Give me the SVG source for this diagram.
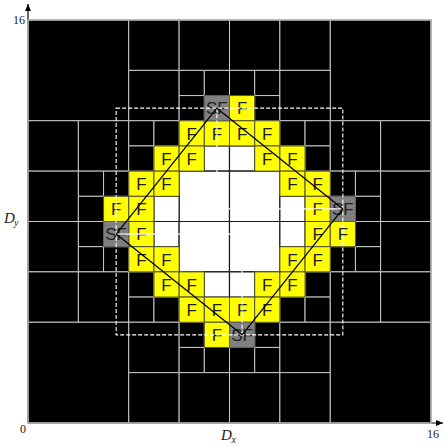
<svg xmlns="http://www.w3.org/2000/svg" width="444" height="447" viewBox="0 0 444 447">
<style>
.grid rect{vector-effect:non-scaling-stroke}
.k{fill:#000;stroke:#c8c8c8;stroke-width:1}
.w{fill:#fff;stroke:#1a1a1a;stroke-width:1.2}
.f{fill:#ffff00;stroke:#4d4d33;stroke-width:1}
.s{fill:#808080;stroke:#5a5a5a;stroke-width:1}
.t{font-family:"Liberation Sans",Arial,sans-serif;font-size:17px;fill:#1e1e1e;text-anchor:middle}
.ax{stroke:#000;stroke-width:1.2;fill:none}
.lbl{font-family:"Liberation Serif","Times New Roman",serif;font-size:12px;fill:#222}
.it{font-family:"Liberation Serif","Times New Roman",serif;font-style:italic;fill:#222}
.wl{stroke:#fff;stroke-width:1.1;fill:none}
.wd{stroke:#fff;stroke-width:1.1;fill:none;stroke-dasharray:4 2}
.cn{stroke:#000;stroke-width:1.3;fill:none}
</style>
<defs>
<marker id="arr" markerWidth="8" markerHeight="8" refX="7" refY="4" orient="auto" markerUnits="userSpaceOnUse"><path d="M0,1 L7,4 L0,7 Z" fill="#000"/></marker>
</defs>

<g id="axes">
<line class="ax" x1="28" y1="423" x2="28" y2="4" marker-end="url(#arr)"/>
<line class="ax" x1="28" y1="423" x2="443" y2="423" marker-end="url(#arr)"/>
</g>

<g id="grid" class="grid" transform="matrix(25.1875 0 0 25.1875 28 20)">
<g id="black">
<rect class="k" x="0" y="0" width="4" height="4"/>
<rect class="k" x="4" y="0" width="2" height="2"/>
<rect class="k" x="6" y="0" width="2" height="2"/>
<rect class="k" x="4" y="2" width="2" height="2"/>
<rect class="k" x="6" y="2" width="1" height="1"/>
<rect class="k" x="7" y="2" width="1" height="1"/>
<rect class="k" x="6" y="3" width="1" height="1"/>
<rect class="k" x="0" y="4" width="2" height="2"/>
<rect class="k" x="2" y="4" width="2" height="2"/>
<rect class="k" x="0" y="6" width="2" height="2"/>
<rect class="k" x="2" y="6" width="1" height="1"/>
<rect class="k" x="3" y="6" width="1" height="1"/>
<rect class="k" x="2" y="7" width="1" height="1"/>
<rect class="k" x="4" y="4" width="1" height="1"/>
<rect class="k" x="5" y="4" width="1" height="1"/>
<rect class="k" x="4" y="5" width="1" height="1"/>
<rect class="k" x="8" y="0" width="2" height="2"/>
<rect class="k" x="10" y="0" width="2" height="2"/>
<rect class="k" x="12" y="0" width="4" height="4"/>
<rect class="k" x="8" y="2" width="1" height="1"/>
<rect class="k" x="9" y="2" width="1" height="1"/>
<rect class="k" x="9" y="3" width="1" height="1"/>
<rect class="k" x="10" y="2" width="2" height="2"/>
<rect class="k" x="10" y="4" width="1" height="1"/>
<rect class="k" x="11" y="4" width="1" height="1"/>
<rect class="k" x="11" y="5" width="1" height="1"/>
<rect class="k" x="12" y="4" width="2" height="2"/>
<rect class="k" x="14" y="4" width="2" height="2"/>
<rect class="k" x="12" y="6" width="1" height="1"/>
<rect class="k" x="13" y="6" width="1" height="1"/>
<rect class="k" x="13" y="7" width="1" height="1"/>
<rect class="k" x="14" y="6" width="2" height="2"/>
<rect class="k" x="0" y="8" width="2" height="2"/>
<rect class="k" x="2" y="8" width="1" height="1"/>
<rect class="k" x="2" y="9" width="1" height="1"/>
<rect class="k" x="3" y="9" width="1" height="1"/>
<rect class="k" x="0" y="10" width="2" height="2"/>
<rect class="k" x="2" y="10" width="2" height="2"/>
<rect class="k" x="4" y="10" width="1" height="1"/>
<rect class="k" x="4" y="11" width="1" height="1"/>
<rect class="k" x="5" y="11" width="1" height="1"/>
<rect class="k" x="0" y="12" width="4" height="4"/>
<rect class="k" x="4" y="12" width="2" height="2"/>
<rect class="k" x="6" y="12" width="1" height="1"/>
<rect class="k" x="6" y="13" width="1" height="1"/>
<rect class="k" x="7" y="13" width="1" height="1"/>
<rect class="k" x="4" y="14" width="2" height="2"/>
<rect class="k" x="6" y="14" width="2" height="2"/>
<rect class="k" x="13" y="8" width="1" height="1"/>
<rect class="k" x="12" y="9" width="1" height="1"/>
<rect class="k" x="13" y="9" width="1" height="1"/>
<rect class="k" x="14" y="8" width="2" height="2"/>
<rect class="k" x="11" y="10" width="1" height="1"/>
<rect class="k" x="10" y="11" width="1" height="1"/>
<rect class="k" x="11" y="11" width="1" height="1"/>
<rect class="k" x="12" y="10" width="2" height="2"/>
<rect class="k" x="14" y="10" width="2" height="2"/>
<rect class="k" x="9" y="12" width="1" height="1"/>
<rect class="k" x="8" y="13" width="1" height="1"/>
<rect class="k" x="9" y="13" width="1" height="1"/>
<rect class="k" x="10" y="12" width="2" height="2"/>
<rect class="k" x="8" y="14" width="2" height="2"/>
<rect class="k" x="10" y="14" width="2" height="2"/>
<rect class="k" x="12" y="12" width="4" height="4"/>
</g>
<g id="interior">
<rect class="w" x="7" y="5" width="1" height="1"/>
<rect class="w" x="8" y="5" width="1" height="1"/>
<rect class="w" x="6" y="6" width="2" height="2"/>
<rect class="w" x="8" y="6" width="2" height="2"/>
<rect class="w" x="5" y="7" width="1" height="1"/>
<rect class="w" x="10" y="7" width="1" height="1"/>
<rect class="w" x="5" y="8" width="1" height="1"/>
<rect class="w" x="6" y="8" width="2" height="2"/>
<rect class="w" x="8" y="8" width="2" height="2"/>
<rect class="w" x="10" y="8" width="1" height="1"/>
<rect class="w" x="7" y="10" width="1" height="1"/>
<rect class="w" x="8" y="10" width="1" height="1"/>
</g>
<g id="front">
<rect class="f" x="8" y="3" width="1" height="1"/>
<rect class="f" x="6" y="4" width="1" height="1"/>
<rect class="f" x="7" y="4" width="1" height="1"/>
<rect class="f" x="8" y="4" width="1" height="1"/>
<rect class="f" x="9" y="4" width="1" height="1"/>
<rect class="f" x="5" y="5" width="1" height="1"/>
<rect class="f" x="6" y="5" width="1" height="1"/>
<rect class="f" x="9" y="5" width="1" height="1"/>
<rect class="f" x="10" y="5" width="1" height="1"/>
<rect class="f" x="4" y="6" width="1" height="1"/>
<rect class="f" x="5" y="6" width="1" height="1"/>
<rect class="f" x="10" y="6" width="1" height="1"/>
<rect class="f" x="11" y="6" width="1" height="1"/>
<rect class="f" x="3" y="7" width="1" height="1"/>
<rect class="f" x="4" y="7" width="1" height="1"/>
<rect class="f" x="11" y="7" width="1" height="1"/>
<rect class="f" x="4" y="8" width="1" height="1"/>
<rect class="f" x="11" y="8" width="1" height="1"/>
<rect class="f" x="12" y="8" width="1" height="1"/>
<rect class="f" x="4" y="9" width="1" height="1"/>
<rect class="f" x="5" y="9" width="1" height="1"/>
<rect class="f" x="10" y="9" width="1" height="1"/>
<rect class="f" x="11" y="9" width="1" height="1"/>
<rect class="f" x="5" y="10" width="1" height="1"/>
<rect class="f" x="6" y="10" width="1" height="1"/>
<rect class="f" x="9" y="10" width="1" height="1"/>
<rect class="f" x="10" y="10" width="1" height="1"/>
<rect class="f" x="6" y="11" width="1" height="1"/>
<rect class="f" x="7" y="11" width="1" height="1"/>
<rect class="f" x="8" y="11" width="1" height="1"/>
<rect class="f" x="9" y="11" width="1" height="1"/>
<rect class="f" x="7" y="12" width="1" height="1"/>
</g>
</g>

<g id="sf-top"><rect class="s" x="204.31" y="95.56" width="25.19" height="25.19"/></g>
<g id="sf-right"><rect class="s" x="330.25" y="196.31" width="25.19" height="25.19"/></g>
<g id="sf-left"><rect class="s" x="103.56" y="221.5" width="25.19" height="25.19"/></g>
<g id="sf-bottom"><rect class="s" x="229.5" y="322.25" width="25.19" height="25.19"/></g>

<rect x="28" y="20" width="403" height="403" fill="none" stroke="#a8a8a8" stroke-width="1.5"/>

<g id="front-labels" class="t">
<text x="242.09" y="114.4">F</text>
<text x="191.72" y="139.5">F</text><text x="216.91" y="139.5">F</text><text x="242.09" y="139.5">F</text><text x="267.28" y="139.5">F</text>
<text x="166.53" y="164.7">F</text><text x="191.72" y="164.7">F</text><text x="267.28" y="164.7">F</text><text x="292.47" y="164.7">F</text>
<text x="141.34" y="189.9">F</text><text x="166.53" y="189.9">F</text><text x="292.47" y="189.9">F</text><text x="317.66" y="189.9">F</text>
<text x="116.16" y="215.1">F</text><text x="141.34" y="215.1">F</text><text x="317.66" y="215.1">F</text>
<text x="141.34" y="240.3">F</text><text x="317.66" y="240.3">F</text><text x="342.84" y="240.3">F</text>
<text x="141.34" y="265.5">F</text><text x="166.53" y="265.5">F</text><text x="292.47" y="265.5">F</text><text x="317.66" y="265.5">F</text>
<text x="166.53" y="290.7">F</text><text x="191.72" y="290.7">F</text><text x="267.28" y="290.7">F</text><text x="292.47" y="290.7">F</text>
<text x="191.72" y="315.9">F</text><text x="216.91" y="315.9">F</text><text x="242.09" y="315.9">F</text><text x="267.28" y="315.9">F</text>
<text x="216.91" y="341">F</text>
<text x="216.91" y="114.4">SF</text>
<text x="342.84" y="215.1">SF</text>
<text x="116.16" y="240.3">SF</text>
<text x="242.09" y="341">SF</text>
</g>

<g id="guides">
<rect class="wd" x="116.16" y="108.16" width="226.68" height="226.68"/>
<line class="wl" x1="116.16" y1="234.09" x2="242.09" y2="234.09"/>
<line class="wl" x1="342.84" y1="208.91" x2="216.91" y2="208.91"/>
<line class="wd" x1="216.91" y1="108.16" x2="216.91" y2="234.09"/>
<line class="wd" x1="242.09" y1="334.84" x2="242.09" y2="208.91"/>
</g>

<g id="connectors">
<line class="cn" x1="216.91" y1="108.16" x2="342.84" y2="208.91"/>
<line class="cn" x1="342.84" y1="208.91" x2="242.09" y2="334.84"/>
<line class="cn" x1="242.09" y1="334.84" x2="116.16" y2="234.09"/>
<line class="cn" x1="116.16" y1="234.09" x2="216.91" y2="108.16"/>
</g>

<g id="labels">
<text class="lbl" x="25" y="24" text-anchor="end">16</text>
<text class="lbl" x="23" y="433" text-anchor="middle">0</text>
<text class="lbl" x="433" y="438" text-anchor="middle">16</text>
<text class="it" x="221" y="440" font-size="15">D</text><text class="it" x="231.5" y="443" font-size="10">x</text>
<text class="it" x="4" y="222.5" font-size="15">D</text><text class="it" x="14" y="225.5" font-size="10">y</text>
</g>
</svg>
